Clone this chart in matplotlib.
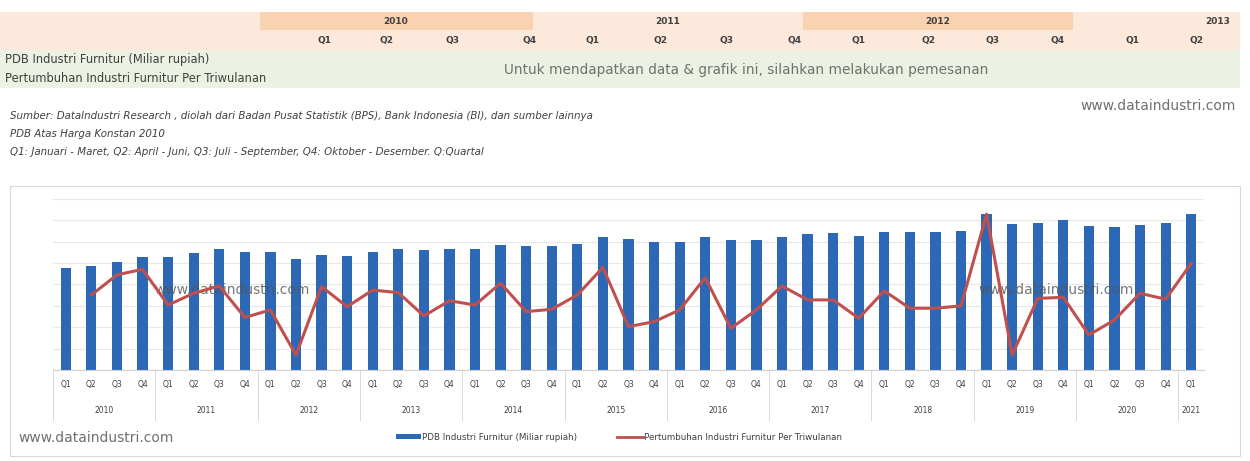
import matplotlib
matplotlib.use("Agg")
import matplotlib.pyplot as plt
import numpy as np
from matplotlib.patches import Rectangle
from matplotlib.transforms import blended_transform_factory

# data
years = ['2010', '2011', '2012', '2013', '2014', '2015', '2016', '2017', '2018', '2019', '2020', '2021']
quarters = ['Q1', 'Q2', 'Q3', 'Q4']
pdb = [4760, 4870, 5040, 5300, 5300, 5480, 5650, 5540, 5540, 5200, 5370, 5350,
       5540, 5650, 5600, 5650, 5650, 5870, 5800, 5800, 5910, 6240, 6120, 6000,
       6000, 6220, 6070, 6070, 6220, 6350, 6410, 6290, 6460, 6460, 6460, 6510,
       7290, 6830, 6900, 7020, 6720, 6690, 6800, 6900, 7290]
growth = [np.nan, 1.51, 2.45, 2.71, 1.04, 1.59, 1.93, 0.46, 0.81, -1.30, 1.90, 0.96,
          1.74, 1.62, 0.53, 1.24, 1.04, 2.06, 0.73, 0.84, 1.51, 2.80, 0.03, 0.26,
          0.81, 2.32, -0.05, 0.81, 1.93, 1.28, 1.28, 0.42, 1.70, 0.89, 0.89, 1.00,
          5.29, -1.30, 1.35, 1.40, -0.36, 0.34, 1.59, 1.31, 2.99]

table_years = ['2010', '2011', '2012', '2013']
table_year_x = [396, 668, 938, 1218]
table_q = ['Q1', 'Q2', 'Q3', 'Q4', 'Q1', 'Q2', 'Q3', 'Q4', 'Q1', 'Q2', 'Q3', 'Q4', 'Q1', 'Q2']
table_q_x = [325, 387, 453, 530, 593, 660, 727, 795, 858, 928, 993, 1058, 1132, 1197]

labels_q = [quarters[i % 4] for i in range(len(pdb))]

W, H = 1250, 461
fig = plt.figure(figsize=(W / 100, H / 100), dpi=100)
fig.patch.set_facecolor('white')

# background layer in pixel coordinates
bg = fig.add_axes([0, 0, 1, 1], zorder=0)
bg.set_xlim(0, W)
bg.set_ylim(H, 0)
bg.axis('off')

bg.add_patch(Rectangle((0, 12), 1240, 38, color='#fde9dc', lw=0))
bg.add_patch(Rectangle((260, 12), 273, 18, color='#f9d2b2', lw=0))
bg.add_patch(Rectangle((803, 12), 270, 18, color='#f9d2b2', lw=0))
bg.add_patch(Rectangle((0, 50), 1240, 38, color='#ecf2e3', lw=0))

for y_lab, xx in zip(table_years, table_year_x):
    bg.text(xx, 21, y_lab, ha='center', va='center', fontsize=6.5,
            fontweight='bold', color='#404040')
for q, xx in zip(table_q, table_q_x):
    bg.text(xx, 41, q, ha='center', va='center', fontsize=6.5,
            fontweight='bold', color='#404040')

bg.text(5, 60, 'PDB Industri Furnitur (Miliar rupiah)', fontsize=8.3,
        va='center', color='#404040')
bg.text(5, 78, 'Pertumbuhan Industri Furnitur Per Triwulanan', fontsize=8.3,
        va='center', color='#404040')
bg.text(746, 70, 'Untuk mendapatkan data & grafik ini, silahkan melakukan pemesanan',
        fontsize=9.8, ha='center', va='center', color='#707070')
bg.text(1236, 106, 'www.dataindustri.com', fontsize=10, ha='right', va='center',
        color='#707070')

notes = ['Sumber: DataIndustri Research , diolah dari Badan Pusat Statistik (BPS), Bank Indonesia (BI), dan sumber lainnya',
         'PDB Atas Harga Konstan 2010',
         'Q1: Januari - Maret, Q2: April - Juni, Q3: Juli - September, Q4: Oktober - Desember. Q:Quartal']
for i, n in enumerate(notes):
    bg.text(10, 116 + i * 18, n, fontsize=7.4, style='italic', va='center',
            color='#404040')

# chart frame
bg.add_patch(Rectangle((10, 186), 1230, 270, fill=False, ec='#d9d9d9', lw=0.8))
bg.text(18, 438, 'www.dataindustri.com', fontsize=10, va='center', color='#707070')

# main chart
left, right, top, base = 53, 1204, 199, 370
ax = fig.add_axes([left / W, 1 - base / H, (right - left) / W, (base - top) / H],
                  zorder=2)
ax.patch.set_alpha(0)
x = np.arange(len(pdb))
ax.bar(x, pdb, width=0.4, color='#2d68b6', zorder=2)
ax.set_xlim(-0.5, len(pdb) - 0.5)
ax.set_ylim(0, 8000)
ax.set_yticks(np.arange(0, 8001, 1000))
ax.yaxis.grid(True, color='#e8e8e8', lw=0.9)
ax.set_axisbelow(True)
for s in ['top', 'right', 'left']:
    ax.spines[s].set_visible(False)
ax.spines['bottom'].set_color('#d0d0d0')

ax2 = ax.twinx()
ax2.plot(x, growth, color='#c0504d', lw=2.2, zorder=3)
ax2.set_ylim(-2, 6)
ax2.axis('off')
ax.tick_params(left=False, labelleft=False, bottom=False, labelbottom=False)

# two-level category labels
tr = blended_transform_factory(ax.transData, ax.transAxes)
hpx = base - top
for i, q in enumerate(labels_q):
    ax.text(i, -14 / hpx, q, transform=tr, ha='center', va='center',
            fontsize=5.5, color='#404040', clip_on=False)
for k, yr in enumerate(years):
    start = k * 4
    end = min(start + 3, len(pdb) - 1)
    ax.text((start + end) / 2, -40 / hpx, yr, transform=tr, ha='center',
            va='center', fontsize=5.5, color='#404040', clip_on=False)
for b in range(0, len(pdb) + 1, 4):
    xb = min(b, len(pdb)) - 0.5
    ax.plot([xb, xb], [0, -50 / hpx], transform=tr, color='#d9d9d9',
            lw=0.7, clip_on=False)

# watermarks in plot
ax.text(6.5, 3740, 'www.dataindustri.com', ha='center', va='center',
        fontsize=10, color='#555555', alpha=0.8, zorder=4)
ax.text(38.7, 3740, 'www.dataindustri.com', ha='center', va='center',
        fontsize=10, color='#555555', alpha=0.8, zorder=4)

# legend
bg.add_patch(Rectangle((396, 434), 25, 5, color='#2d68b6', lw=0))
bg.text(422, 437, 'PDB Industri Furnitur (Miliar rupiah)', fontsize=6.3,
        va='center', color='#404040')
bg.plot([617, 643], [437, 437], color='#c0504d', lw=2)
bg.text(644, 437, 'Pertumbuhan Industri Furnitur Per Triwulanan', fontsize=6.3,
        va='center', color='#404040')

fig.savefig('out.png', dpi=100)
